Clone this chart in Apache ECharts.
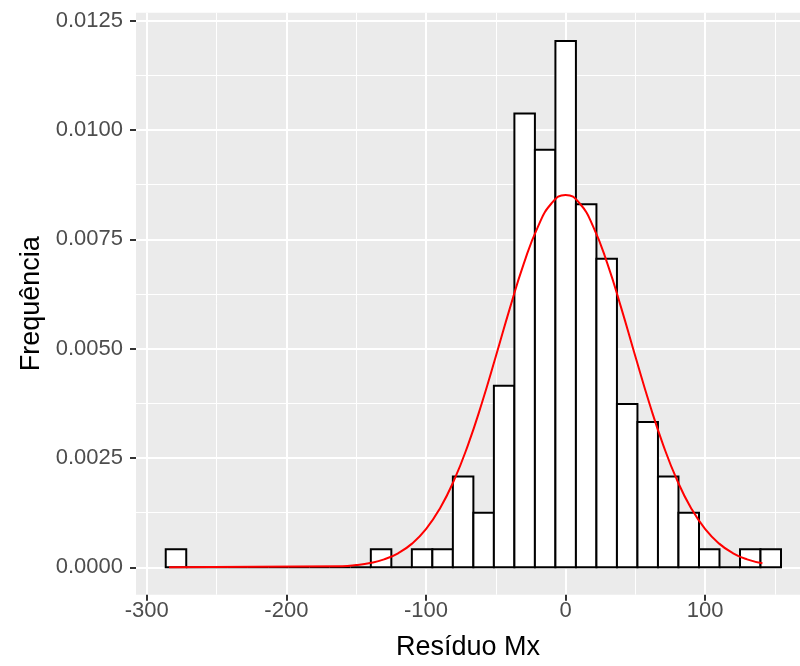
<!DOCTYPE html>
<html>
<head>
<meta charset="utf-8">
<script src="https://cdn.jsdelivr.net/npm/echarts@6/dist/echarts.min.js"></script>
<style>
  html, body { margin: 0; padding: 0; background: #ffffff; }
  #chart { width: 800px; height: 666px; }
</style>
</head>
<body>
<div id="chart"></div>
<script>
// ---- Data ----
// Histogram: 30 bins, counts per bin (n = 164), bin width ~14.69, first bin starts at ~-286.4
const binStart = -286.4;
const binWidth = 14.69;
const binCounts = [1, 0, 0, 0, 0, 0, 0, 0, 0, 0,
                   1, 0, 1, 1, 5, 3, 10, 25, 23, 29,
                   20, 17, 9, 8, 5, 3, 1, 0, 1, 1];
const sampleSize = 164;

// Normal density curve (red line)
const curveX = [-284, -160, -150, -140, -130, -120, -110, -100, -90, -80, -70, -60, -50, -40, -30, -20, -10,
                0, 10, 20, 30, 40, 50, 60, 70, 80, 90, 100, 110, 120, 130, 141];
const curveY = [0.0000000, 0.0000250, 0.0000506, 0.0000980, 0.0001813, 0.0003204, 0.0005409, 0.0008727,
                0.0013455, 0.0019818, 0.0027892, 0.0037505, 0.0048183, 0.0059145, 0.0069375, 0.0077744,
                0.0083242, 0.0085160, 0.0083242, 0.0077744, 0.0069375, 0.0059145, 0.0048183, 0.0037505,
                0.0027892, 0.0019818, 0.0013455, 0.0008727, 0.0005409, 0.0003204, 0.0001813, 0.0000919];

// Axis ticks
const xMajorTicks = [-300, -200, -100, 0, 100];
const xMinorTicks = [-250, -150, -50, 50, 150];
const yMajorTicks = [0, 0.0025, 0.005, 0.0075, 0.01, 0.0125];
const yMinorTicks = [0.00125, 0.00375, 0.00625, 0.00875, 0.01125];

const xTitle = 'Resíduo Mx';
const yTitle = 'Frequência';

// ---- Build ----
const histData = binCounts.map((c, i) => [
  binStart + i * binWidth,
  binStart + (i + 1) * binWidth,
  c / (sampleSize * binWidth)
]);
const curveData = curveX.map((x, i) => [x, curveY[i]]);

const FONT = "'Liberation Sans', Arial, sans-serif";
const xMin = -307.7, xMax = 167.9;
const yMin = -0.000627, yMax = 0.012682;

const chart = echarts.init(document.getElementById('chart'), null, { renderer: 'canvas' });

const option = {
  backgroundColor: '#ffffff',
  animation: false,
  grid: {
    left: 136, right: 0, top: 12.7, bottom: 71.3,
    show: true, backgroundColor: '#EBEBEB', borderWidth: 0
  },
  xAxis: [
    {
      type: 'value', min: xMin, max: xMax,
      name: xTitle, nameLocation: 'middle', nameGap: 39,
      nameTextStyle: { color: '#000000', fontSize: 27, fontFamily: FONT },
      axisLine: { show: false, onZero: false },
      axisTick: { show: true, length: 6, customValues: xMajorTicks, lineStyle: { color: '#333333', width: 2 } },
      axisLabel: { show: true, customValues: xMajorTicks, margin: 5, color: '#4D4D4D', fontSize: 22, fontFamily: FONT },
      splitLine: { show: true, lineStyle: { color: '#FFFFFF', width: 2 } }
    },
    {
      type: 'value', min: xMin, max: xMax, position: 'bottom',
      axisLine: { show: false, onZero: false },
      axisTick: { show: false, customValues: xMinorTicks },
      axisLabel: { show: false, customValues: xMinorTicks },
      splitLine: { show: true, lineStyle: { color: '#FFFFFF', width: 1 } }
    }
  ],
  yAxis: [
    {
      type: 'value', min: yMin, max: yMax,
      name: yTitle, nameLocation: 'middle', nameGap: 91, nameRotate: 90,
      nameTextStyle: { color: '#000000', fontSize: 27, fontFamily: FONT },
      axisLine: { show: false, onZero: false },
      axisTick: { show: true, length: 6, customValues: yMajorTicks, lineStyle: { color: '#333333', width: 2 } },
      axisLabel: {
        show: true, customValues: yMajorTicks, margin: 13, color: '#4D4D4D', fontSize: 22, fontFamily: FONT,
        formatter: v => v.toFixed(4)
      },
      splitLine: { show: true, lineStyle: { color: '#FFFFFF', width: 2 } }
    },
    {
      type: 'value', min: yMin, max: yMax, position: 'left',
      axisLine: { show: false, onZero: false },
      axisTick: { show: false, customValues: yMinorTicks },
      axisLabel: { show: false, customValues: yMinorTicks },
      splitLine: { show: true, lineStyle: { color: '#FFFFFF', width: 1 } }
    }
  ],
  series: [
    {
      type: 'custom',
      xAxisIndex: 0, yAxisIndex: 0,
      z: 3,
      clip: true,
      data: histData,
      renderItem: function (params, api) {
        const x0 = api.value(0), x1 = api.value(1), y = api.value(2);
        const pTop = api.coord([x0, y]);
        const pBot = api.coord([x1, 0]);
        return {
          type: 'rect',
          shape: { x: pTop[0], y: pTop[1], width: pBot[0] - pTop[0], height: pBot[1] - pTop[1] },
          style: { fill: '#FFFFFF', stroke: '#000000', lineWidth: 2 }
        };
      }
    },
    {
      type: 'line',
      xAxisIndex: 0, yAxisIndex: 0,
      z: 4,
      data: curveData,
      showSymbol: false,
      smooth: 0.5,
      lineStyle: { color: '#FF0000', width: 2 }
    }
  ]
};
chart.setOption(option);
</script>
</body>
</html>
